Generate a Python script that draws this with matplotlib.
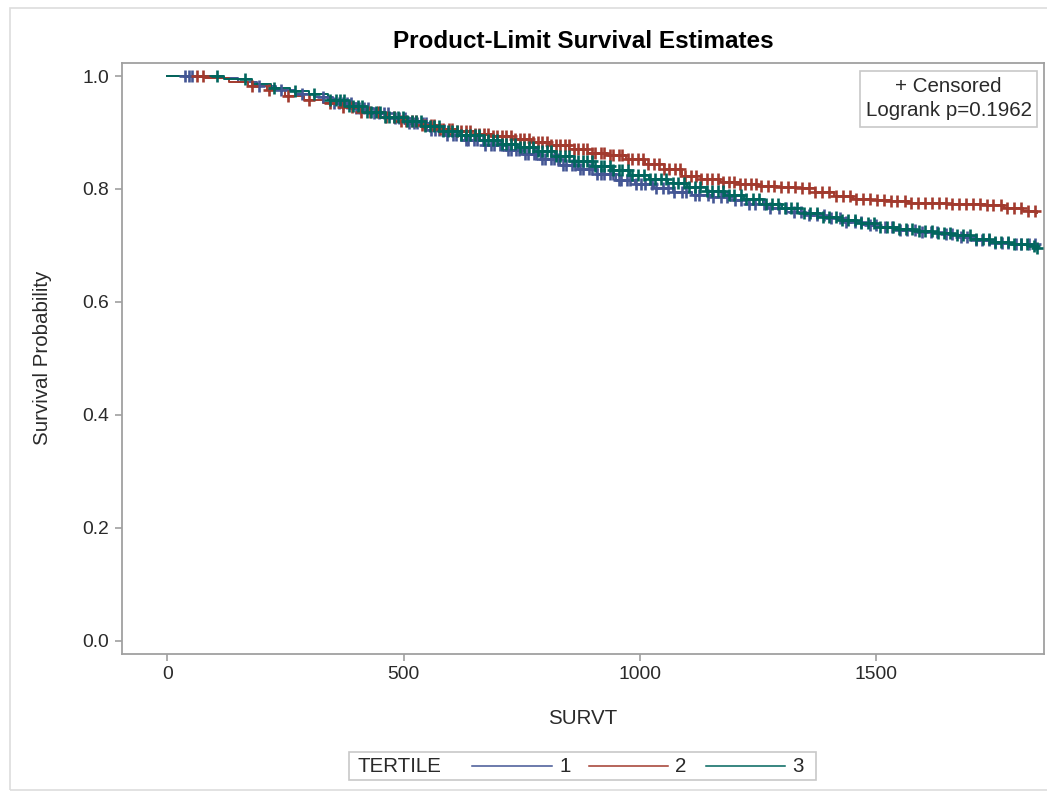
import matplotlib
matplotlib.use("Agg")
import matplotlib.pyplot as plt
from matplotlib.patches import Rectangle
from matplotlib.lines import Line2D
import numpy as np

plt.rcParams['font.family'] = ['Liberation Sans', 'DejaVu Sans']

# Kaplan-Meier step curves (time, survival)
t1 = [0, 60, 110, 150, 190, 230, 270, 310, 350, 390, 430, 470, 510, 550, 590,
      630, 670, 710, 750, 790, 830, 870, 910, 950, 990, 1030, 1070, 1110, 1150,
      1190, 1230, 1270, 1310, 1350, 1390, 1430, 1470, 1510, 1550, 1590, 1630,
      1670, 1710, 1750, 1790, 1840]
s1 = [1.0, .998, .996, .99, .983, .975, .968, .962, .952, .943, .935, .925,
      .917, .905, .896, .887, .878, .869, .862, .853, .843, .835, .826, .816,
      .808, .801, .795, .79, .785, .781, .774, .767, .759, .753, .748, .742,
      .737, .733, .728, .724, .72, .715, .709, .704, .702, .70]

t2 = [0, 80, 130, 170, 210, 250, 290, 330, 370, 410, 450, 490, 530, 570, 610,
      650, 690, 730, 770, 810, 850, 890, 930, 970, 1010, 1050, 1090, 1130,
      1170, 1210, 1250, 1290, 1330, 1370, 1410, 1450, 1490, 1530, 1570, 1610,
      1650, 1690, 1730, 1770, 1810, 1840]
s2 = [1.0, .997, .99, .983, .975, .965, .958, .952, .945, .937, .928, .92,
      .913, .907, .902, .897, .893, .889, .884, .878, .87, .864, .86, .853,
      .845, .835, .823, .817, .812, .808, .806, .804, .801, .795, .787, .783,
      .78, .778, .776, .775, .774, .773, .772, .766, .761, .758]

t3 = [0, 120, 180, 220, 260, 300, 340, 380, 420, 460, 500, 540, 580, 620, 660,
      700, 740, 780, 820, 860, 900, 940, 980, 1020, 1060, 1100, 1140, 1180,
      1220, 1260, 1300, 1340, 1380, 1420, 1460, 1500, 1540, 1580, 1620, 1660,
      1700, 1740, 1780, 1820, 1840]
s3 = [1.0, .995, .986, .978, .973, .968, .958, .947, .937, .928, .92, .912,
      .903, .895, .887, .88, .874, .867, .858, .849, .841, .833, .824, .818,
      .811, .803, .797, .79, .783, .774, .766, .758, .75, .745, .739, .733,
      .729, .725, .722, .718, .711, .706, .703, .699, .695]

# censoring times per group
c1 = [38, 45, 52, 195, 240, 285, 330, 352, 363, 371, 380, 388, 399, 406, 417,
      425, 438, 447, 459, 468, 481, 490, 503, 511, 522, 529, 541, 547, 558,
      567, 574, 586, 592, 604, 610, 622, 631, 637, 648, 655, 667, 673, 684,
      691, 703, 709, 721, 727, 738, 745, 757, 763, 775, 781, 793, 799, 811,
      818, 826, 837, 843, 856, 862, 874, 880, 893, 898, 910, 918, 925, 937,
      942, 955, 961, 973, 979, 992, 1003, 1010, 1026, 1034, 1049, 1060, 1072,
      1088, 1098, 1116, 1126, 1143, 1155, 1171, 1184, 1202, 1214, 1231, 1244,
      1263, 1276, 1295, 1309, 1327, 1341, 1357, 1375, 1389, 1405, 1424, 1437,
      1455, 1468, 1487, 1500, 1519, 1533, 1551, 1565, 1583, 1597, 1615, 1628,
      1647, 1661, 1679, 1692, 1711, 1723, 1739, 1751, 1767, 1779, 1795, 1807,
      1823, 1836]
c2 = [62, 75, 180, 215, 255, 300, 345, 372, 391, 410, 428, 446, 463, 480, 494,
      506, 517, 526, 538, 545, 557, 564, 576, 583, 595, 602, 614, 621, 633,
      640, 652, 659, 671, 678, 690, 697, 709, 716, 728, 735, 747, 754, 766,
      773, 785, 792, 804, 811, 823, 830, 842, 849, 861, 868, 880, 887, 899,
      906, 918, 925, 937, 944, 956, 963, 975, 984, 996, 1006, 1017, 1029,
      1040, 1052, 1061, 1074, 1085, 1096, 1108, 1119, 1130, 1142, 1153, 1165,
      1176, 1188, 1199, 1211, 1222, 1234, 1245, 1257, 1270, 1284, 1299, 1313,
      1328, 1342, 1357, 1371, 1386, 1400, 1415, 1429, 1444, 1458, 1473, 1487,
      1502, 1516, 1531, 1545, 1560, 1574, 1589, 1603, 1618, 1632, 1647, 1661,
      1676, 1690, 1705, 1719, 1734, 1748, 1763, 1777, 1792, 1806, 1821, 1835]
c3 = [105, 165, 225, 270, 310, 345, 356, 366, 374, 385, 393, 404, 412, 423,
      431, 442, 450, 461, 469, 480, 488, 499, 507, 518, 526, 537, 545, 556,
      564, 575, 583, 594, 602, 613, 621, 632, 640, 651, 659, 670, 678, 689,
      697, 708, 716, 727, 735, 746, 754, 765, 773, 784, 792, 803, 811, 822,
      830, 841, 849, 860, 868, 879, 887, 898, 906, 917, 925, 936, 944, 955,
      963, 974, 984, 997, 1008, 1021, 1032, 1045, 1056, 1069, 1080, 1093,
      1104, 1117, 1128, 1141, 1152, 1165, 1176, 1189, 1200, 1213, 1225, 1239,
      1252, 1266, 1279, 1293, 1306, 1320, 1333, 1347, 1360, 1374, 1387, 1401,
      1414, 1428, 1441, 1455, 1468, 1482, 1495, 1509, 1522, 1536, 1549, 1563,
      1576, 1590, 1603, 1617, 1630, 1644, 1657, 1671, 1684, 1698, 1711, 1725,
      1738, 1752, 1765, 1779, 1792, 1806, 1819, 1833, 1840]

groups = ['1', '2', '3']
colors = ['#445694', '#A23A2E', '#01665E']
x_ticks = [0, 500, 1000, 1500]
y_ticks = [0.0, 0.2, 0.4, 0.6, 0.8, 1.0]

W, H = 1047, 792
fig = plt.figure(figsize=(W / 100, H / 100), dpi=100)
ax = fig.add_axes([121.7 / W, 1 - 653.5 / H, (1044 - 121.7) / W,
                   (653.5 - 62.7) / H])

for t, s, c, col in [(t1, s1, c1, colors[0]), (t2, s2, c2, colors[1]),
                     (t3, s3, c3, colors[2])]:
    t = np.array(t)
    s = np.array(s)
    ax.step(t, s, where='post', color=col, lw=1.4, zorder=2)
    idx = np.searchsorted(t, np.array(c), side='right') - 1
    ax.plot(c, s[idx], ls='none', marker='+', ms=8, mew=1.9, color=col,
            zorder=3)

ax.set_xlim(-96.5, 1855)
ax.set_ylim(-0.0227, 1.0236)
ax.set_xticks(x_ticks)
ax.set_yticks(y_ticks)
ax.set_yticklabels(['{:.1f}'.format(v) for v in y_ticks])
ax.tick_params(colors='#a0a0a0', labelcolor='#2a2a2a', labelsize=13.9,
               length=5, width=1.2, pad=4)
for sp in ax.spines.values():
    sp.set_color('#a0a0a0')
    sp.set_linewidth(1.3)

ax.set_xlabel('SURVT', fontsize=14.8, color='#2a2a2a', labelpad=18.5)
ax.set_ylabel('Survival Probability', fontsize=14.8, color='#2a2a2a',
              labelpad=21.5)
ax.set_title('Product-Limit Survival Estimates', fontsize=17.5,
             fontweight='bold', pad=10.5)


def fx(px):
    return px / W


def fy(py):
    return 1 - py / H


# outer border
fig.add_artist(Rectangle((fx(10), fy(790)), 1.5, fy(8) - fy(790),
                         transform=fig.transFigure, fill=False,
                         edgecolor='#dddddd', lw=1.2))

# inset box
fig.add_artist(Rectangle((fx(860), fy(127)), fx(1037) - fx(860),
                         fy(71) - fy(127), transform=fig.transFigure,
                         facecolor='white', edgecolor='#c8c8c8', lw=1.2,
                         zorder=5))
fig.text(fx(948.5), fy(86), '+ Censored', ha='center', va='center',
         fontsize=14.8, color='#2a2a2a', zorder=6)
fig.text(fx(948.5), fy(110), 'Logrank p=0.1962', ha='center', va='center',
         fontsize=14.8, color='#2a2a2a', zorder=6)

# bottom legend
fig.add_artist(Rectangle((fx(349), fy(780)), fx(816) - fx(349),
                         fy(752) - fy(780), transform=fig.transFigure,
                         fill=False, edgecolor='#c8c8c8', lw=1.2))
fig.text(fx(357), fy(766), 'TERTILE', ha='left', va='center', fontsize=14.8,
         color='#2a2a2a')
line_x = [(472, 552), (589, 668), (706, 785)]
for (a, b), col, g in zip(line_x, colors, groups):
    fig.add_artist(Line2D([fx(a), fx(b)], [fy(766), fy(766)],
                          transform=fig.transFigure, color=col, lw=1.1))
    fig.text(fx(b + 13), fy(766), g, ha='center', va='center',
             fontsize=14.8, color='#2a2a2a')

fig.savefig('out.png', dpi=100, facecolor='white')
